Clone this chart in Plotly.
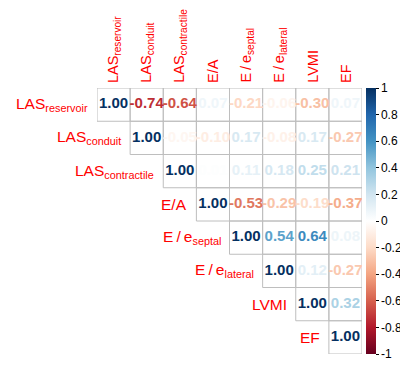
import plotly.graph_objects as go

labels = ["LAS<sub>reservoir</sub>", "LAS<sub>conduit</sub>", "LAS<sub>contractile</sub>",
          "E/A", "E\u2009/\u2009e<sub>septal</sub>", "E\u2009/\u2009e<sub>lateral</sub>", "LVMI", "EF"]

# upper triangle rows (starting at the diagonal)
row_lasres = [1.00, -0.74, -0.64, 0.07, -0.21, -0.06, -0.30, 0.07]
row_lascon = [1.00, -0.05, -0.10, 0.17, -0.08, 0.17, -0.27]
row_lasctr = [1.00, 0.01, 0.11, 0.18, 0.25, 0.21]
row_ea = [1.00, -0.53, -0.29, -0.19, -0.37]
row_esep = [1.00, 0.54, 0.64, 0.08]
row_elat = [1.00, 0.12, -0.27]
row_lvmi = [1.00, 0.32]
row_ef = [1.00]
rows = [row_lasres, row_lascon, row_lasctr, row_ea, row_esep, row_elat, row_lvmi, row_ef]

cb_ticks = [1, 0.8, 0.6, 0.4, 0.2, 0, -0.2, -0.4, -0.6, -0.8, -1]
cb_text = ["1", "0.8", "0.6", "0.4", "0.2", "0", "-0.2", "-0.4", "-0.6", "-0.8", "-1"]

rdbu = ["#67001F", "#B2182B", "#D6604D", "#F4A582", "#FDDBC7", "#FFFFFF",
        "#D1E5F0", "#92C5DE", "#4393C3", "#2166AC", "#053061"]
colorscale = [[k / 10, c] for k, c in enumerate(rdbu)]


def hex2rgb(h):
    h = h.lstrip("#")
    return [int(h[i:i + 2], 16) for i in (0, 2, 4)]


def val2color(v):
    t = (v + 1) / 2 * 10
    k = min(int(t), 9)
    f = t - k
    a, b = hex2rgb(rdbu[k]), hex2rgb(rdbu[k + 1])
    c = [round(a[i] + (b[i] - a[i]) * f) for i in range(3)]
    return "rgb(%d,%d,%d)" % tuple(c)


n = len(labels)
xs, ys, txt, cols = [], [], [], []
shapes = []
for i, r in enumerate(rows):
    for k, v in enumerate(r):
        j = i + k
        xs.append(j)
        ys.append(i)
        txt.append("%.2f" % v)
        cols.append(val2color(v))
        shapes.append(dict(type="rect", xref="x", yref="y", x0=j - 0.5, x1=j + 0.5,
                           y0=i - 0.5, y1=i + 0.5, line=dict(color="#BEBEBE", width=1),
                           fillcolor="rgba(0,0,0,0)", layer="below"))

fig = go.Figure()
fig.add_trace(go.Scatter(x=xs, y=ys, mode="text", text=txt,
                         textfont=dict(color=cols, size=15, family="Liberation Sans", weight="bold"),
                         hoverinfo="skip", showlegend=False))
fig.add_trace(go.Scatter(x=[0, 0], y=[0, 0], mode="markers",
                         marker=dict(size=0.1, color=[-1, 1], cmin=-1, cmax=1, colorscale=colorscale,
                                     showscale=True,
                                     colorbar=dict(x=1.015, xanchor="left", y=0.5, yanchor="middle",
                                                   len=1.0, lenmode="fraction", thickness=10,
                                                   xpad=0, ypad=0,
                                                   outlinewidth=0, tickvals=cb_ticks, ticktext=cb_text,
                                                   ticks="outside", ticklen=3, tickcolor="black",
                                                   tickfont=dict(size=12, color="black", family="Liberation Sans"))),
                         hoverinfo="skip", showlegend=False))

ann = []
for i, lab in enumerate(labels):
    ann.append(dict(x=i - 0.5, y=i, xref="x", yref="y", text=lab, showarrow=False,
                    xanchor="right", yanchor="middle", xshift=-7,
                    font=dict(color="red", size=15.5, family="Liberation Sans")))
    ann.append(dict(x=i, y=-0.5, xref="x", yref="y", text=lab, showarrow=False,
                    textangle=-90, xanchor="center", yanchor="bottom", yshift=3,
                    font=dict(color="red", size=14.5, family="Liberation Sans")))

# page body has an 8px default margin, so the figure is sized/offset to compensate
fig.update_layout(width=400, height=357,
                  margin=dict(l=89, r=46, t=80, b=11, autoexpand=False),
                  paper_bgcolor="white", plot_bgcolor="white",
                  xaxis=dict(range=[-0.5, n - 0.5], visible=False, fixedrange=True),
                  yaxis=dict(range=[n - 0.5, -0.5], visible=False, fixedrange=True),
                  shapes=shapes, annotations=ann)
fig.write_html("out.html")
